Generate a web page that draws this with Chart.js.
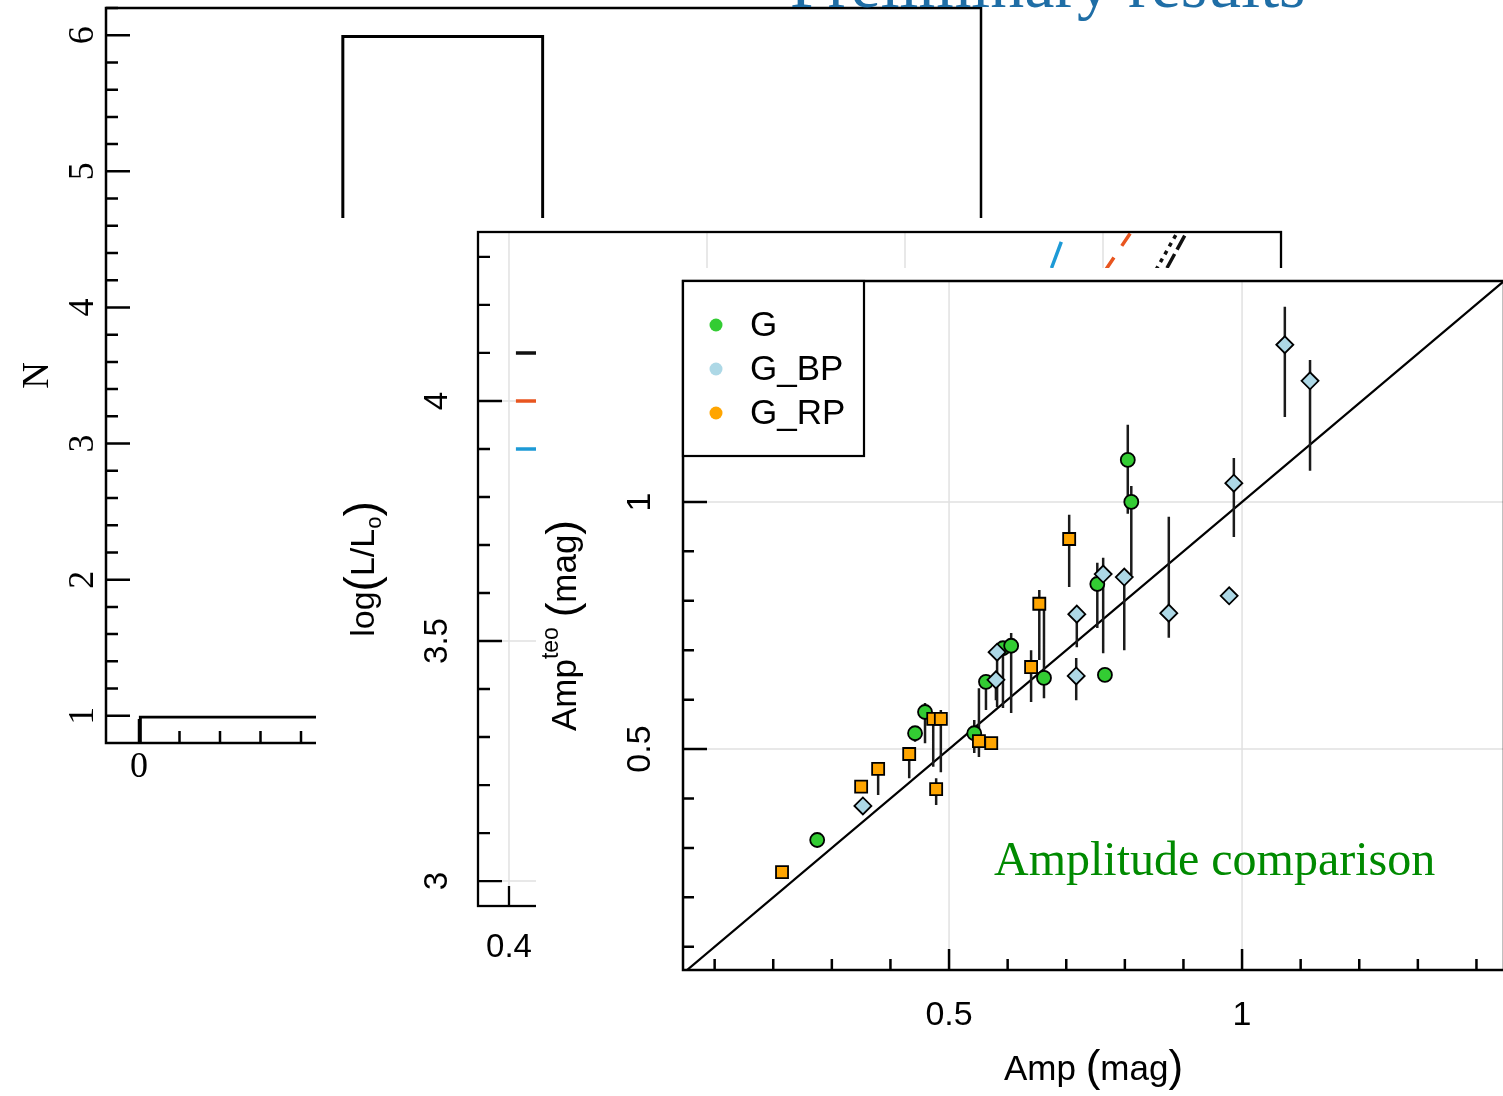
<!DOCTYPE html>
<html lang="en">
<head>
<meta charset="utf-8">
<title>Amplitude comparison</title>
<script src="https://cdn.jsdelivr.net/npm/chart.js@4.4.1/dist/chart.umd.min.js"></script>
<style>
  html, body { margin: 0; padding: 0; background: #fff; }
  body { position: relative; width: 1503px; height: 1096px; overflow: hidden; }
  .panel { position: absolute; background: #fff; }
  .panel canvas { display: block; }
  #panel-hist { left: 0; top: 0; z-index: 1; }
  #panel-lum { left: 316px; top: 218px; z-index: 2; }
  #panel-amp { left: 536px; top: 268px; z-index: 3; }
  .note { position: absolute; white-space: nowrap; z-index: 4; line-height: 1;
          font-family: "Liberation Serif", "Times New Roman", serif; }
  #slide-title { left: 790px; top: -50px; font-size: 68px; color: #1f6ea6; }
  #amp-caption { left: 994px; top: 835px; font-size: 48px; color: #008a00; }
</style>
</head>
<body>
<div class="note" id="slide-title">Preliminary results</div>
<div class="panel" id="panel-hist"><canvas id="histChart" width="1000" height="800"></canvas></div>
<div class="panel" id="panel-lum"><canvas id="lumChart" width="980" height="770"></canvas></div>
<div class="panel" id="panel-amp"><canvas id="ampChart" width="980" height="828"></canvas></div>
<div class="note" id="amp-caption">Amplitude comparison</div>

<script>
const SANS = '"Liberation Sans", Arial, Helvetica, sans-serif';
const SERIF = '"Liberation Serif", "Times New Roman", serif';

// --- histogram (back panel) ---
const histEdges = [0, 1, 2];
const histCounts = [1, 6];
const histXTicks = [0, 1, 2, 3, 4];
const histYTicks = [1, 2, 3, 4, 5, 6];

// --- luminosity panel (middle) ---
const lumXTicks = [0.4, 0.6, 0.8, 1.0];
const lumYTicks = [3, 3.5, 4];
const edgeNames = ['black', 'red', 'blue'];
const edgeColors = ['#111111', '#e8551f', '#1d9ad6'];
const edgeLevels = [4.1, 4.0, 3.9];
const edgeStartX = [0.407, 0.407, 0.407];
const edgeStopX = [0.62, 0.62, 0.62];
// upper, steep parts of the edges
const blueRiseX = [0.9480, 0.9630];
const blueRiseY = [4.277, 4.36];
const redRiseX = [1.0026, 1.031];
const redRiseY = [4.273, 4.36];
const blackDotRiseX = [1.0535, 1.0775];
const blackDotRiseY = [4.273, 4.36];
const blackDashRiseX = [1.0646, 1.0866];
const blackDashRiseY = [4.277, 4.36];

// --- amplitude comparison (front panel) ---
const ampTicks = [0.5, 1];
const gAmp = [0.275, 0.442, 0.459, 0.543, 0.563, 0.592, 0.606, 0.662, 0.753, 0.766, 0.805, 0.811];
const gTeo = [0.316, 0.532, 0.575, 0.532, 0.636, 0.704, 0.709, 0.644, 0.834, 0.650, 1.085, 1.000];
const gLo  = [null, 0.515, 0.512, 0.492, 0.579, 0.583, 0.573, 0.603, 0.745, null, 0.976, 0.852];
const gHi  = [null, 0.532, 0.593, 0.559, 0.645, 0.712, 0.735, 0.800, 0.877, null, 1.156, 1.032];

const bpAmp = [0.353, 0.580, 0.582, 0.717, 0.718, 0.763, 0.799, 0.875, 0.978, 0.986, 1.073, 1.116];
const bpTeo = [0.385, 0.640, 0.696, 0.648, 0.773, 0.854, 0.848, 0.775, 0.810, 1.038, 1.318, 1.245];
const bpLo  = [null, 0.599, 0.585, 0.599, 0.706, 0.694, 0.700, 0.725, null, 0.929, 1.172, 1.063];
const bpHi  = [null, 0.640, 0.696, 0.684, 0.773, 0.887, 0.848, 0.970, null, 1.089, 1.395, 1.287];

const rpAmp = [0.215, 0.350, 0.379, 0.432, 0.473, 0.486, 0.478, 0.551, 0.572, 0.640, 0.654, 0.705];
const rpTeo = [0.251, 0.424, 0.460, 0.490, 0.561, 0.561, 0.419, 0.516, 0.512, 0.666, 0.794, 0.925];
const rpLo  = [null, null, 0.407, 0.441, 0.464, 0.453, 0.387, 0.484, null, 0.595, 0.680, 0.828];
const rpHi  = [null, null, 0.472, 0.500, 0.561, 0.579, 0.441, 0.623, null, 0.700, 0.822, 0.974];

const zip = (xs, ys) => xs.map((x, i) => ({ x, y: ys[i] }));

// evenly spaced minor tick values, leaving out the labelled ones
function tickRange(first, last, step, skip) {
  const out = [];
  const n = Math.round((last - first) / step);
  for (let k = 0; k <= n; k++) {
    const v = +(first + k * step).toFixed(6);
    if (!skip.some(s => Math.abs(s - v) < 1e-9)) out.push(v);
  }
  return out;
}

// draws a run of text pieces (sub/superscripts, tall brackets) centred on x,y
function drawRich(ctx, parts, x, y, angle) {
  ctx.save();
  ctx.translate(x, y);
  ctx.rotate(angle);
  ctx.textAlign = 'left';
  ctx.textBaseline = 'middle';
  let total = 0;
  parts.forEach(p => {
    ctx.font = p.font;
    p.w = ctx.measureText(p.t).width;
    total += p.w;
  });
  let cx = -total / 2;
  parts.forEach(p => {
    ctx.font = p.font;
    ctx.fillText(p.t, cx, p.dy || 0);
    cx += p.w;
  });
  ctx.restore();
}

// R-like box, inward ticks, rotated y labels and light grid
const rAxes = {
  id: 'rAxes',
  beforeDatasetsDraw(chart, args, o) {
    const { ctx, chartArea: a, scales: { x, y } } = chart;
    ctx.save();
    ctx.strokeStyle = '#e1e1e1';
    ctx.lineWidth = 1.5;
    ctx.beginPath();
    (o.gridX || []).forEach(v => {
      const p = x.getPixelForValue(v);
      ctx.moveTo(p, a.top);
      ctx.lineTo(p, a.bottom);
    });
    (o.gridY || []).forEach(v => {
      const p = y.getPixelForValue(v);
      ctx.moveTo(a.left, p);
      ctx.lineTo(a.right, p);
    });
    ctx.stroke();
    ctx.restore();
  },
  afterDatasetsDraw(chart, args, o) {
    const { ctx, chartArea: a, scales: { x, y } } = chart;
    ctx.save();
    ctx.strokeStyle = '#000';
    ctx.lineWidth = o.lineWidth;
    ctx.strokeRect(a.left, a.top, a.right - a.left, a.bottom - a.top);

    ctx.beginPath();
    const tickX = (vals, len) => vals.forEach(v => {
      const p = x.getPixelForValue(v);
      if (p < a.left || p > a.right) return;
      ctx.moveTo(p, a.bottom);
      ctx.lineTo(p, a.bottom - len);
    });
    const tickY = (vals, len) => vals.forEach(v => {
      const p = y.getPixelForValue(v);
      if (p < a.top || p > a.bottom) return;
      ctx.moveTo(a.left, p);
      ctx.lineTo(a.left + len, p);
    });
    tickX(o.xMinor, o.minorLen);
    tickX(o.xMajor, o.xMajorLen);
    tickY(o.yMinor, o.minorLen);
    tickY(o.yMajor, o.yMajorLen);
    ctx.stroke();

    ctx.fillStyle = '#000';
    ctx.font = o.tickFont;
    ctx.textAlign = 'center';
    ctx.textBaseline = 'middle';
    o.xMajor.forEach(v => {
      const p = x.getPixelForValue(v);
      if (p < a.left || p > a.right) return;
      ctx.fillText(String(v), p, a.bottom + o.xLabelGap);
    });
    o.yMajor.forEach(v => {
      const p = y.getPixelForValue(v);
      if (p < a.top || p > a.bottom) return;
      ctx.save();
      ctx.translate(a.left - o.yLabelGap, p);
      ctx.rotate(-Math.PI / 2);
      ctx.fillText(String(v), 0, 0);
      ctx.restore();
    });
    if (o.xTitle) drawRich(ctx, o.xTitle, (a.left + a.right) / 2, a.bottom + o.xTitleGap, 0);
    if (o.yTitle) drawRich(ctx, o.yTitle, a.left - o.yTitleGap, (a.top + a.bottom) / 2, -Math.PI / 2);
    ctx.restore();
  }
};

// vertical error bars, drawn right after the dataset given in afterIndex
const errorBars = {
  id: 'errorBars',
  afterDatasetDraw(chart, args, o) {
    if (args.index !== o.afterIndex) return;
    const { ctx, chartArea: a, scales: { x, y } } = chart;
    ctx.save();
    ctx.beginPath();
    ctx.rect(a.left, a.top, a.right - a.left, a.bottom - a.top);
    ctx.clip();
    ctx.strokeStyle = '#1b1b1b';
    ctx.lineWidth = o.width;
    ctx.beginPath();
    chart.data.datasets.forEach(d => {
      if (!d.errLo) return;
      d.data.forEach((pt, i) => {
        const lo = d.errLo[i], hi = d.errHi[i];
        if (lo == null || hi == null) return;
        const px = x.getPixelForValue(pt.x);
        ctx.moveTo(px, y.getPixelForValue(lo));
        ctx.lineTo(px, y.getPixelForValue(hi));
      });
    });
    ctx.stroke();
    ctx.restore();
  }
};

// boxed legend in the top-left corner of the plot area
const boxLegend = {
  id: 'boxLegend',
  afterDraw(chart, args, o) {
    const { ctx, chartArea: a } = chart;
    const items = chart.data.datasets.filter(d => d.inLegend);
    ctx.save();
    ctx.fillStyle = '#fff';
    ctx.fillRect(a.left, a.top, o.width, o.height);
    ctx.strokeStyle = '#000';
    ctx.lineWidth = 2.2;
    ctx.strokeRect(a.left, a.top, o.width, o.height);
    ctx.font = o.font;
    ctx.textAlign = 'left';
    ctx.textBaseline = 'middle';
    items.forEach((d, i) => {
      const cy = a.top + o.firstRow + i * o.rowGap;
      ctx.fillStyle = d.backgroundColor;
      ctx.beginPath();
      ctx.arc(a.left + o.markerX, cy, o.markerR, 0, Math.PI * 2);
      ctx.fill();
      ctx.fillStyle = '#000';
      ctx.fillText(d.label, a.left + o.textX, cy + 1);
    });
    ctx.restore();
  }
};

const baseOptions = {
  responsive: false,
  animation: false,
  events: []
};

// back panel: histogram of N
new Chart(document.getElementById('histChart'), {
  type: 'bar',
  data: {
    datasets: [{
      data: histCounts.map((c, i) => ({ x: (histEdges[i] + histEdges[i + 1]) / 2, y: c })),
      backgroundColor: 'rgba(255,255,255,0)',
      borderColor: '#000',
      borderWidth: 2.5,
      borderSkipped: false,
      barPercentage: 1,
      categoryPercentage: 1
    }]
  },
  options: {
    ...baseOptions,
    layout: { padding: { left: 106, top: 8, right: 19, bottom: 57 } },
    scales: {
      x: {
        type: 'linear', display: false, offset: false, min: -0.163, max: 4.158,
        ticks: { stepSize: 1, includeBounds: false }
      },
      y: { display: false, min: 0.8, max: 6.2 }
    },
    plugins: {
      legend: { display: false },
      tooltip: { enabled: false },
      rAxes: {
        lineWidth: 2.5,
        xMajor: histXTicks, xMinor: tickRange(0, 4, 0.2, histXTicks),
        yMajor: histYTicks, yMinor: tickRange(1, 6.2, 0.2, histYTicks),
        minorLen: 12, xMajorLen: 24, yMajorLen: 24,
        tickFont: `36px ${SERIF}`,
        xLabelGap: 25, yLabelGap: 22,
        yTitle: [{ t: 'N', font: `37px ${SERIF}` }], yTitleGap: 68
      }
    }
  },
  plugins: [rAxes]
});

// middle panel: log L with the instability-strip edges
const riseSet = [
  { x: blueRiseX, y: blueRiseY, color: edgeColors[2], dash: [28, 14] },
  { x: redRiseX, y: redRiseY, color: edgeColors[1], dash: [15, 14] },
  { x: blackDotRiseX, y: blackDotRiseY, color: edgeColors[0], dash: [4, 5] },
  { x: blackDashRiseX, y: blackDashRiseY, color: edgeColors[0], dash: [16, 5] }
];
new Chart(document.getElementById('lumChart'), {
  type: 'scatter',
  data: {
    datasets: [
      ...edgeNames.map((name, i) => ({
        label: name,
        data: zip([edgeStartX[i], edgeStopX[i]], [edgeLevels[i], edgeLevels[i]]),
        showLine: true, borderColor: edgeColors[i], borderWidth: 3.5, pointRadius: 0
      })),
      ...riseSet.map(r => ({
        data: zip(r.x, r.y),
        showLine: true, borderColor: r.color, borderWidth: 3.5, borderDash: r.dash, pointRadius: 0
      }))
    ]
  },
  options: {
    ...baseOptions,
    layout: { padding: { left: 162, top: 14, right: 15, bottom: 82 } },
    scales: {
      x: { type: 'linear', display: false, min: 0.3687, max: 1.1798 },
      y: { display: false, min: 2.948, max: 4.352 }
    },
    plugins: {
      legend: { display: false },
      tooltip: { enabled: false },
      rAxes: {
        lineWidth: 2.3,
        gridX: lumXTicks, gridY: lumYTicks,
        xMajor: lumXTicks, xMinor: [],
        yMajor: lumYTicks, yMinor: tickRange(3, 4.3, 0.1, lumYTicks),
        minorLen: 12, xMajorLen: 20, yMajorLen: 24,
        tickFont: `33px ${SANS}`,
        xLabelGap: 42, yLabelGap: 40,
        yTitle: [
          { t: 'log', font: `34px ${SANS}` },
          { t: '(', font: `46px ${SANS}`, dy: -1 },
          { t: 'L/L', font: `34px ${SANS}` },
          { t: 'o', font: `22px ${SANS}`, dy: 10 },
          { t: ')', font: `46px ${SANS}`, dy: -1 }
        ],
        yTitleGap: 113
      }
    }
  },
  plugins: [rAxes]
});

// front panel: theoretical vs observed amplitudes
new Chart(document.getElementById('ampChart'), {
  type: 'scatter',
  data: {
    datasets: [
      {
        label: 'G', inLegend: true, order: 3,
        data: zip(gAmp, gTeo), errLo: gLo, errHi: gHi,
        backgroundColor: '#33cc33', borderColor: '#000',
        pointStyle: 'circle', pointRadius: 7, pointBorderWidth: 1.8
      },
      {
        label: 'G_BP', inLegend: true, order: 2,
        data: zip(bpAmp, bpTeo), errLo: bpLo, errHi: bpHi,
        backgroundColor: '#add8e6', borderColor: '#000',
        pointStyle: 'rectRot', pointRadius: 8.5, pointBorderWidth: 1.8
      },
      {
        label: 'G_RP', inLegend: true, order: 1,
        data: zip(rpAmp, rpTeo), errLo: rpLo, errHi: rpHi,
        backgroundColor: '#ffa500', borderColor: '#000',
        pointStyle: 'rect', pointRadius: 8.5, pointBorderWidth: 1.8
      },
      {
        label: 'one-to-one', order: 4,
        data: zip([0, 1.5], [0, 1.5]),
        showLine: true, borderColor: '#000', borderWidth: 2.2, pointRadius: 0
      }
    ]
  },
  options: {
    ...baseOptions,
    layout: { padding: { left: 147, top: 13, right: 12, bottom: 126 } },
    scales: {
      x: { type: 'linear', display: false, min: 0.046, max: 1.447 },
      y: { display: false, min: 0.053, max: 1.447 }
    },
    plugins: {
      legend: { display: false },
      tooltip: { enabled: false },
      errorBars: { afterIndex: 3, width: 2.5 },
      boxLegend: {
        width: 181, height: 175, firstRow: 44, rowGap: 44,
        markerX: 33, markerR: 6.5, textX: 67, font: `35px ${SANS}`
      },
      rAxes: {
        lineWidth: 2.5,
        gridX: ampTicks, gridY: ampTicks,
        xMajor: ampTicks, xMinor: tickRange(0.1, 1.4, 0.1, ampTicks),
        yMajor: ampTicks, yMinor: tickRange(0.1, 1.4, 0.1, ampTicks),
        minorLen: 11, xMajorLen: 21, yMajorLen: 24,
        tickFont: `34px ${SANS}`,
        xLabelGap: 46, yLabelGap: 42,
        xTitle: [
          { t: 'Amp ', font: `35px ${SANS}` },
          { t: '(', font: `44px ${SANS}`, dy: -1 },
          { t: 'mag', font: `35px ${SANS}` },
          { t: ')', font: `44px ${SANS}`, dy: -1 }
        ],
        xTitleGap: 100,
        yTitle: [
          { t: 'Amp', font: `35px ${SANS}` },
          { t: 'teo', font: `23px ${SANS}`, dy: -14 },
          { t: ' ', font: `35px ${SANS}` },
          { t: '(', font: `44px ${SANS}`, dy: -1 },
          { t: 'mag', font: `35px ${SANS}` },
          { t: ')', font: `44px ${SANS}`, dy: -1 }
        ],
        yTitleGap: 117
      }
    }
  },
  plugins: [rAxes, errorBars, boxLegend]
});
</script>
</body>
</html>
